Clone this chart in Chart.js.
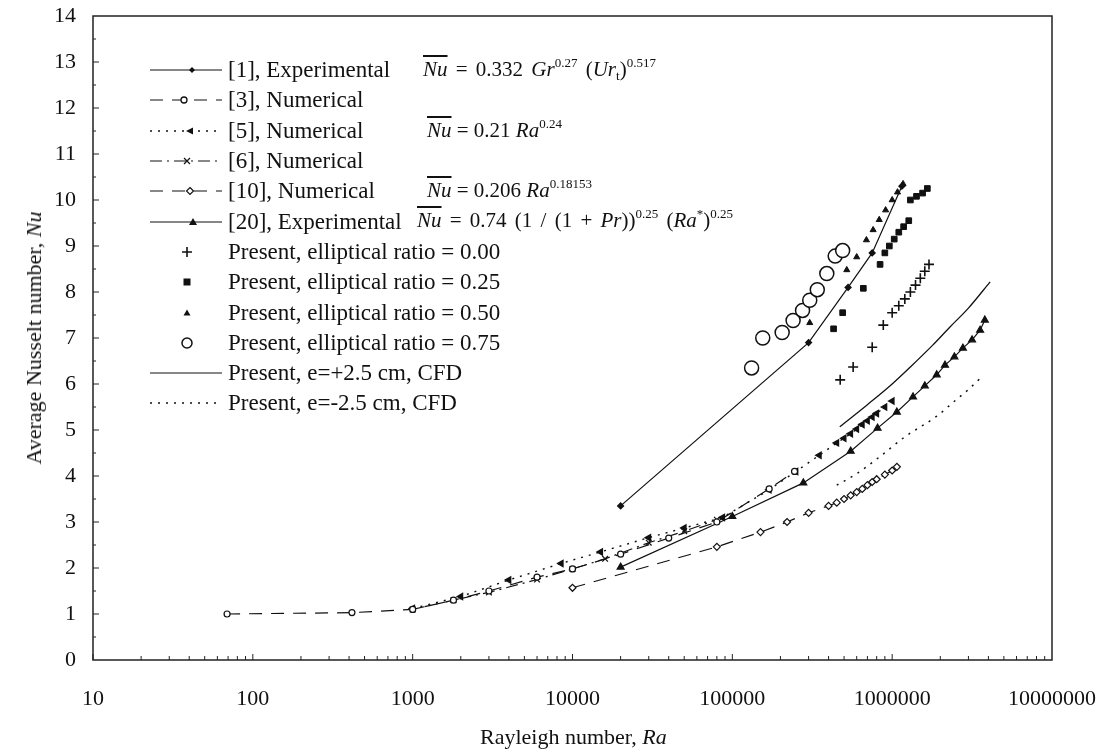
<!DOCTYPE html>
<html>
<head>
<meta charset="utf-8">
<script src="https://cdn.jsdelivr.net/npm/chart.js@4.4.1/dist/chart.umd.min.js"></script>
<style>
body { margin: 0; background: #fff; }
#wrap { position: relative; width: 1104px; height: 755px; }
#legend { position: absolute; left: 148px; top: 55px; font-family: "Liberation Serif", serif; font-size: 23px; color: #111; }
.row { height: 30.3px; display: flex; align-items: center; white-space: nowrap; position: relative; }
.row svg { width: 80px; height: 20px; flex: none; }
.f { position: absolute; top: 2px; font-size: 21px; }
.wide { word-spacing: 3px; }
.nu { font-style: italic; text-decoration: overline; }
sup { font-size: 13px; vertical-align: 9px; line-height: 0; }
sub { font-size: 13px; vertical-align: -4px; line-height: 0; }
.axt { position: absolute; font-family: "Liberation Serif", serif; font-size: 22px; color: #111; white-space: nowrap; }
</style>
</head>
<body>
<div id="wrap">
<canvas id="nuChart" width="1104" height="755"></canvas>

<div id="legend">
  <div class="row"><svg><line x1="2" y1="10" x2="74" y2="10" stroke="#111" stroke-width="1.2"/><polygon points="44,7 47,10 44,13 41,10" fill="#111"/></svg><span>[1], Experimental</span>
    <span class="f wide" style="left:275px"><span class="nu">Nu</span> = 0.332 <i>Gr</i><sup>0.27</sup> (<i>Ur</i><sub>t</sub>)<sup>0.517</sup></span></div>
  <div class="row"><svg><line x1="2" y1="10" x2="74" y2="10" stroke="#111" stroke-width="1.2" stroke-dasharray="13,9"/><circle cx="36" cy="10" r="3" fill="#fff" stroke="#111" stroke-width="1.3"/></svg><span>[3], Numerical</span></div>
  <div class="row"><svg><line x1="2" y1="10" x2="74" y2="10" stroke="#111" stroke-width="1.4" stroke-dasharray="2,6"/><polygon points="38,10 45,6.5 45,13.5" fill="#111"/></svg><span>[5], Numerical</span>
    <span class="f" style="left:279px"><span class="nu">Nu</span> = 0.21 <i>Ra</i><sup>0.24</sup></span></div>
  <div class="row"><svg><line x1="2" y1="10" x2="74" y2="10" stroke="#111" stroke-width="1.2" stroke-dasharray="12,5,2,5"/><path d="M36,7 L42,13 M42,7 L36,13" stroke="#111" stroke-width="1.2"/></svg><span>[6], Numerical</span></div>
  <div class="row"><svg><line x1="2" y1="10" x2="74" y2="10" stroke="#111" stroke-width="1.2" stroke-dasharray="13,9"/><polygon points="42,6.5 45.5,10 42,13.5 38.5,10" fill="#fff" stroke="#111" stroke-width="1.2"/></svg><span>[10], Numerical</span>
    <span class="f" style="left:279px"><span class="nu">Nu</span> = 0.206 <i>Ra</i><sup>0.18153</sup></span></div>
  <div class="row"><svg><line x1="2" y1="10" x2="74" y2="10" stroke="#111" stroke-width="1.2"/><polygon points="45,6 49,13 41,13" fill="#111"/></svg><span>[20], Experimental</span>
    <span class="f wide" style="left:269px"><span class="nu">Nu</span> = 0.74 (1 / (1 + <i>Pr</i>))<sup>0.25</sup> (<i>Ra</i><sup>*</sup>)<sup>0.25</sup></span></div>
  <div class="row"><svg><path d="M39,5 L39,15 M34,10 L44,10" stroke="#111" stroke-width="1.6"/></svg><span>Present, elliptical ratio = 0.00</span></div>
  <div class="row"><svg><rect x="35.5" y="6.5" width="7" height="7" fill="#111"/></svg><span>Present, elliptical ratio = 0.25</span></div>
  <div class="row"><svg><polygon points="39,6.5 42.5,12.5 35.5,12.5" fill="#111"/></svg><span>Present, elliptical ratio = 0.50</span></div>
  <div class="row"><svg><circle cx="39" cy="10" r="5" fill="#fff" stroke="#111" stroke-width="1.5"/></svg><span>Present, elliptical ratio = 0.75</span></div>
  <div class="row"><svg><line x1="2" y1="10" x2="74" y2="10" stroke="#111" stroke-width="1.2"/></svg><span>Present, e=+2.5 cm, CFD</span></div>
  <div class="row"><svg><line x1="2" y1="10" x2="74" y2="10" stroke="#111" stroke-width="1.3" stroke-dasharray="2,6"/></svg><span>Present, e=-2.5 cm, CFD</span></div>
</div>

<div class="axt" style="left:480px; top:724px;">Rayleigh number, <i>Ra</i></div>
<div class="axt" style="left:34px; top:338px; transform: translate(-50%,-50%) rotate(-90deg);">Average Nusselt number, <i>Nu</i></div>
</div>

<script>
// tick labels
var raTicks = [10, 100, 1000, 10000, 100000, 1000000, 10000000];

// [1] Experimental
var exp1Ra = [2e4, 3e5, 5.3e5, 7.5e5, 1.15e6];
var exp1Nu = [3.35, 6.9, 8.1, 8.85, 10.3];
// [3] Numerical
var num3Ra = [69, 417, 1000, 1800, 3000, 6000, 10000, 20000, 40000, 80000, 170000, 245000];
var num3Nu = [1.0, 1.03, 1.1, 1.3, 1.5, 1.8, 1.98, 2.3, 2.65, 3.0, 3.72, 4.1];
// [5] Numerical
var num5Ra = [1000, 2000, 4000, 8500, 15000, 30000, 50000, 87000, 170000, 250000, 350000, 450000, 500000, 550000, 600000, 650000, 700000, 750000, 800000, 900000, 1000000];
var num5Nu = [1.12, 1.38, 1.74, 2.1, 2.35, 2.66, 2.87, 3.1, 3.7, 4.1, 4.45, 4.72, 4.82, 4.92, 5.02, 5.12, 5.2, 5.28, 5.36, 5.5, 5.63];
// [6] Numerical
var num6Ra = [1000, 1800, 3000, 6000, 10000, 16000, 30000, 50000, 80000];
var num6Nu = [1.1, 1.3, 1.47, 1.75, 1.98, 2.2, 2.55, 2.8, 3.05];
// [10] Numerical
var num10Ra = [10000, 80000, 150000, 220000, 300000, 400000, 450000, 500000, 550000, 600000, 650000, 700000, 750000, 800000, 900000, 1000000, 1070000];
var num10Nu = [1.57, 2.46, 2.78, 3.0, 3.2, 3.35, 3.42, 3.5, 3.58, 3.65, 3.72, 3.8, 3.87, 3.93, 4.03, 4.12, 4.2];
// [20] Experimental
var exp20Ra = [20000, 100000, 278000, 550000, 810000, 1070000, 1350000, 1600000, 1900000, 2140000, 2450000, 2770000, 3160000, 3550000, 3800000];
var exp20Nu = [2.02, 3.12, 3.85, 4.54, 5.04, 5.39, 5.72, 5.96, 6.2, 6.41, 6.59, 6.78, 6.96, 7.17, 7.39];
// Present, elliptical ratios
var r000Ra = [473000, 570000, 750000, 880000, 1000000, 1100000, 1200000, 1300000, 1400000, 1500000, 1600000, 1700000];
var r000Nu = [6.09, 6.37, 6.8, 7.28, 7.55, 7.7, 7.85, 8.0, 8.15, 8.3, 8.45, 8.6];
var r025Ra = [430000, 490000, 660000, 840000, 900000, 960000, 1030000, 1100000, 1180000, 1270000, 1300000, 1420000, 1550000, 1660000];
var r025Nu = [7.2, 7.55, 8.08, 8.6, 8.85, 9.0, 9.15, 9.3, 9.42, 9.55, 10.0, 10.08, 10.15, 10.25];
var r050Ra = [305000, 520000, 600000, 690000, 760000, 830000, 910000, 1000000, 1080000, 1170000];
var r050Nu = [7.33, 8.48, 8.76, 9.13, 9.35, 9.57, 9.78, 10.0, 10.17, 10.35];
var r075Ra = [132000, 155000, 205000, 240000, 275000, 305000, 340000, 390000, 440000, 490000];
var r075Nu = [6.35, 7.0, 7.12, 7.38, 7.6, 7.82, 8.05, 8.4, 8.78, 8.9];
// Present, CFD
var cfdPlusRa = [470000, 700000, 1000000, 1300000, 1800000, 2300000, 3000000, 4100000];
var cfdPlusNu = [5.07, 5.55, 6.0, 6.37, 6.85, 7.24, 7.65, 8.22];
var cfdMinusRa = [450000, 600000, 830000, 1200000, 1900000, 2500000, 3000000, 3700000];
var cfdMinusNu = [3.8, 4.05, 4.41, 4.85, 5.3, 5.65, 5.88, 6.18];

function pts(xs, ys) {
  return xs.map(function (v, i) { return { x: v, y: ys[i] }; });
}

var ink = '#111';
var serif = { family: '"Liberation Serif", serif', size: 22 };

// box round the plot and the short inward ticks
var frame = {
  id: 'frame',
  afterDraw: function (chart) {
    var ctx = chart.ctx, a = chart.chartArea, x = chart.scales.x, y = chart.scales.y;
    ctx.save();
    ctx.strokeStyle = '#222';
    ctx.lineWidth = 1.5;
    ctx.strokeRect(a.left, a.top, a.right - a.left, a.bottom - a.top);
    ctx.lineWidth = 1;
    ctx.beginPath();
    for (var e = 1; e < 7; e++) {
      for (var m = 1; m < 10; m++) {
        var px = x.getPixelForValue(m * Math.pow(10, e));
        ctx.moveTo(px, a.bottom);
        ctx.lineTo(px, a.bottom - (m === 1 ? 6 : 4));
      }
    }
    for (var v = 0.5; v < 14; v += 0.5) {
      var py = y.getPixelForValue(v);
      ctx.moveTo(a.left, py);
      ctx.lineTo(a.left + (v % 1 ? 3 : 6), py);
    }
    ctx.stroke();
    ctx.restore();
  }
};

var ctx = document.getElementById('nuChart');
var nuChart = new Chart(ctx, {
  type: 'scatter',
  data: {
    datasets: [
      { label: '[1], Experimental', data: pts(exp1Ra, exp1Nu), showLine: true, borderColor: ink, borderWidth: 1.2,
        pointStyle: 'rectRot', pointRadius: 3, backgroundColor: ink },
      { label: '[3], Numerical', data: pts(num3Ra, num3Nu), showLine: true, borderColor: ink, borderWidth: 1.2, borderDash: [13, 9],
        pointStyle: 'circle', pointRadius: 3, pointBackgroundColor: '#fff', pointBorderWidth: 1.2 },
      { label: '[5], Numerical', data: pts(num5Ra, num5Nu), showLine: true, borderColor: ink, borderWidth: 1.4, borderDash: [2, 6],
        pointStyle: 'triangle', pointRotation: 270, pointRadius: 3.5, backgroundColor: ink },
      { label: '[6], Numerical', data: pts(num6Ra, num6Nu), showLine: true, borderColor: ink, borderWidth: 1.2, borderDash: [12, 5, 2, 5],
        pointStyle: 'crossRot', pointRadius: 4, pointBorderWidth: 1.2 },
      { label: '[10], Numerical', data: pts(num10Ra, num10Nu), showLine: true, borderColor: ink, borderWidth: 1.2, borderDash: [13, 9],
        pointStyle: 'rectRot', pointRadius: 3.5, pointBackgroundColor: '#fff', pointBorderWidth: 1.2 },
      { label: '[20], Experimental', data: pts(exp20Ra, exp20Nu), showLine: true, borderColor: ink, borderWidth: 1.2,
        pointStyle: 'triangle', pointRadius: 4, backgroundColor: ink },
      { label: 'Present, elliptical ratio = 0.00', data: pts(r000Ra, r000Nu), showLine: false, borderColor: ink,
        pointStyle: 'cross', pointRadius: 5, pointBorderWidth: 1.6 },
      { label: 'Present, elliptical ratio = 0.25', data: pts(r025Ra, r025Nu), showLine: false, borderColor: ink,
        pointStyle: 'rect', pointRadius: 4, backgroundColor: ink },
      { label: 'Present, elliptical ratio = 0.50', data: pts(r050Ra, r050Nu), showLine: false, borderColor: ink,
        pointStyle: 'triangle', pointRadius: 3.5, backgroundColor: ink },
      { label: 'Present, elliptical ratio = 0.75', data: pts(r075Ra, r075Nu), showLine: false, borderColor: ink,
        pointStyle: 'circle', pointRadius: 7, pointBackgroundColor: '#fff', pointBorderWidth: 1.5 },
      { label: 'Present, e=+2.5 cm, CFD', data: pts(cfdPlusRa, cfdPlusNu), showLine: true, borderColor: ink, borderWidth: 1.3,
        pointRadius: 0, cubicInterpolationMode: 'monotone' },
      { label: 'Present, e=-2.5 cm, CFD', data: pts(cfdMinusRa, cfdMinusNu), showLine: true, borderColor: ink, borderWidth: 1.5,
        borderDash: [2, 6], pointRadius: 0, cubicInterpolationMode: 'monotone' }
    ]
  },
  options: {
    responsive: false,
    animation: false,
    layout: { padding: { left: 0, right: 52, top: 16, bottom: 0 } },
    plugins: { legend: { display: false }, tooltip: { enabled: false } },
    scales: {
      x: {
        type: 'logarithmic', min: 10, max: 10000000,
        grid: { display: false, drawTicks: false },
        border: { display: false },
        afterBuildTicks: function (scale) { scale.ticks = raTicks.map(function (v) { return { value: v }; }); },
        afterFit: function (scale) { scale.height = 95; scale.paddingLeft = 0; scale.paddingRight = 0; },
        ticks: { color: ink, font: serif, padding: 26, maxRotation: 0, autoSkip: false,
          callback: function (v) { return String(v); } }
      },
      y: {
        min: 0, max: 14,
        grid: { display: false, drawTicks: false },
        border: { display: false },
        afterFit: function (scale) { scale.width = 93; scale.paddingTop = 0; scale.paddingBottom = 0; },
        ticks: { stepSize: 1, color: ink, font: serif, padding: 17 }
      }
    }
  },
  plugins: [frame]
});
</script>
</body>
</html>
